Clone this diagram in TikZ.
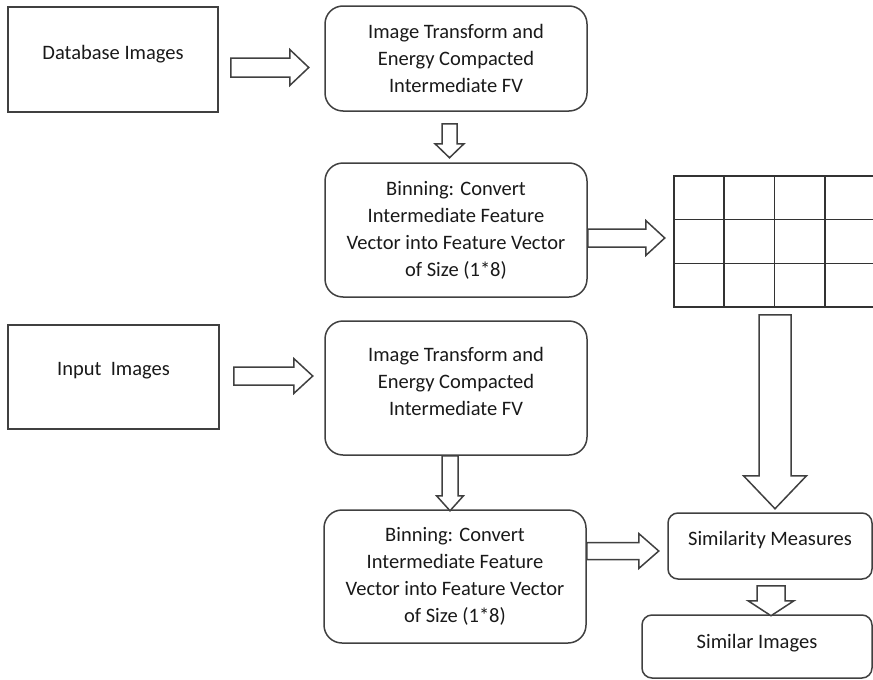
\documentclass[tikz,border=0pt]{standalone}
\usepackage{fontspec}
\setmainfont{Carlito}
\usetikzlibrary{calc}

% hollow block arrow: start, angle, length, head length, shaft half width, head half width
\newcommand{\blkarrow}[6]{%
  \draw[blk, shift={#1}, rotate=#2]
    (0pt,#5pt) -- ({#3pt-#4pt},#5pt) -- ({#3pt-#4pt},#6pt) -- (#3pt,0pt)
    -- ({#3pt-#4pt},-#6pt) -- ({#3pt-#4pt},-#5pt) -- (0pt,-#5pt) -- cycle;}

\begin{document}
\begin{tikzpicture}[
  x=1pt, y=-1pt, font=\fontsize{20.5}{27}\selectfont,
  box/.style={draw=black!75, line width=1.5pt, inner sep=0pt},
  rbox/.style={box, rounded corners=18pt},
  sbox/.style={box, rounded corners=10pt},
  txt/.style={align=center, text=black!90},
  blk/.style={draw=black!75, line width=1.5pt, fill=white, line join=miter},
  grd/.style={black!80, line width=1.5pt},
]
\useasboundingbox (0,0) rectangle (873,680);

% database branch
\node[box, minimum width=210, minimum height=105] (db) at (113,59.5) {};
\node[txt] (dbtxt) at ([yshift=5.5pt]db.center) {Database Images};
\node[rbox, txt, minimum width=262, minimum height=105] (tr1) at (456,58.5)
  {Image Transform and\\Energy Compacted\\Intermediate FV};
\node[rbox, txt, minimum width=262, minimum height=134] (bin1) at (456,230)
  {Binning: Convert\\Intermediate Feature\\Vector into Feature Vector\\of Size (1*8)};

% stored feature vectors
\node[draw=black!80, line width=1.5pt, inner sep=0pt,
      minimum width=202, minimum height=131] (fv) at (775,241.5) {};
\foreach \c in {1,2,3}
  \draw[grd] ($(fv.north west)+(\c*50.5,0)$) -- ($(fv.south west)+(\c*50.5,0)$);
\foreach \r in {1,2}
  \draw[grd] ($(fv.north west)+(0,\r*44)$) -- ($(fv.north east)+(0,\r*44)$);

% query branch
\node[box, minimum width=211, minimum height=104] (inp) at (113.5,377) {};
\node[txt] (inptxt) at ([yshift=6pt]inp.center) {Input~~Images};
\node[rbox, minimum width=262, minimum height=134] (tr2) at (456,388) {};
\node[txt] (tr2txt) at ([yshift=7pt]tr2.center)
  {Image Transform and\\Energy Compacted\\Intermediate FV};
\node[rbox, txt, minimum width=262, minimum height=133] (bin2) at (455,576.5)
  {Binning: Convert\\Intermediate Feature\\Vector into Feature Vector\\of Size (1*8)};

% matching
\node[sbox, minimum width=204, minimum height=66] (sim) at (770,546) {};
\node[txt] (simtxt) at ([yshift=6pt]sim.center) {Similarity Measures};
\node[sbox, minimum width=230, minimum height=63] (res) at (757,646.5) {};
\node[txt] (restxt) at ([yshift=3.5pt]res.center) {Similar Images};

% arrows
\blkarrow{($(db.east)+(12,8)$)}{0}{78}{19}{9.5}{18}
\blkarrow{($(tr1.south)+(-6.5,12)$)}{-90}{34}{14}{7.5}{14.5}
\blkarrow{($(bin1.east)+(0,8)$)}{0}{77}{19}{9}{17.5}
\blkarrow{($(inp.east)+(14,-1)$)}{0}{79}{19}{9}{17.5}
\blkarrow{($(tr2.south)+(-6,0)$)}{-90}{55}{15}{8}{13.5}
\blkarrow{($(bin2.east)+(0,-25.5)$)}{0}{72}{20}{8.5}{17.5}
\blkarrow{($(fv.south)+(0,7)$)}{-90}{194}{33}{16}{31.5}
\blkarrow{($(sim.south)+(1,6)$)}{-90}{30}{15}{14}{23}
\end{tikzpicture}
\end{document}
